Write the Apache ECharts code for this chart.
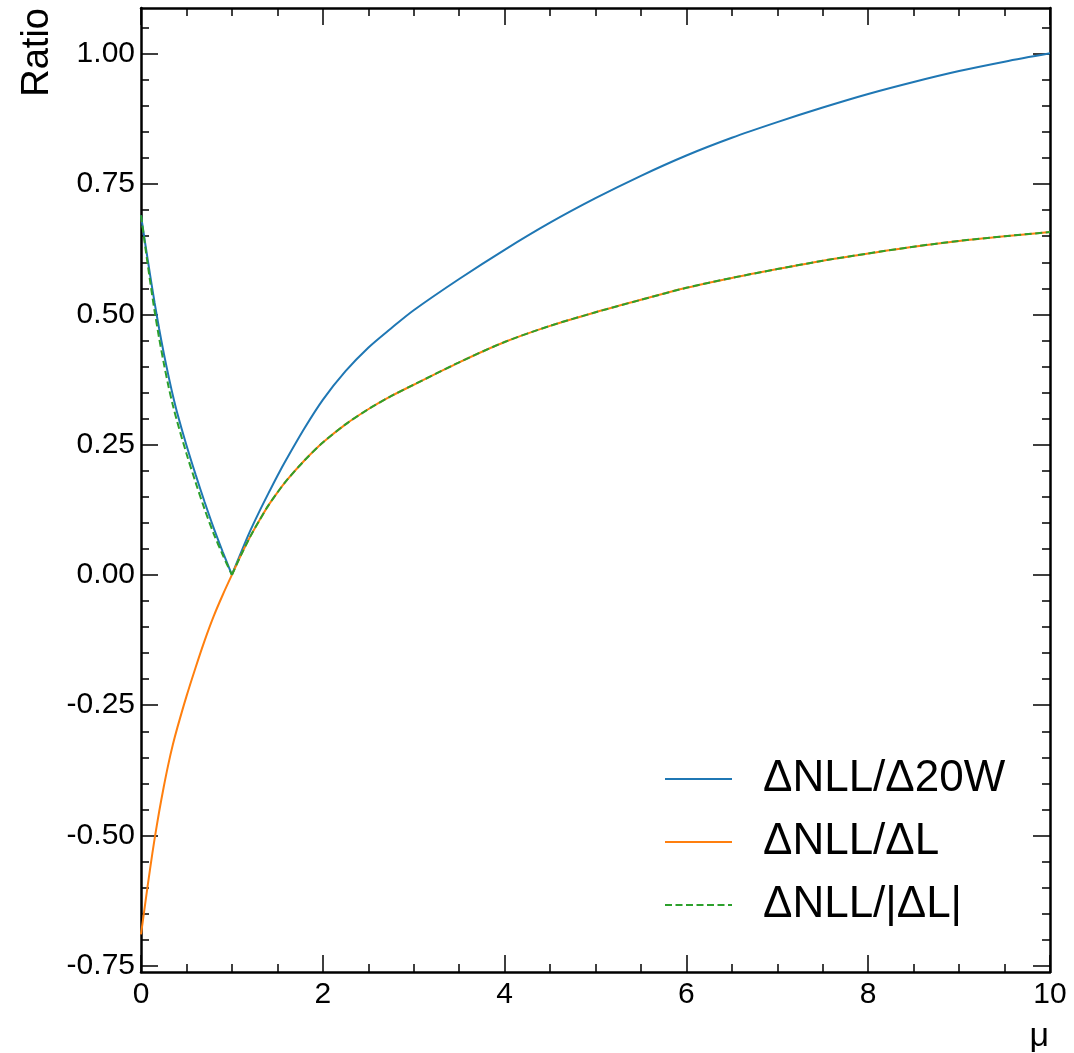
<!DOCTYPE html>
<html>
<head>
<meta charset="utf-8">
<script src="https://cdn.jsdelivr.net/npm/echarts@6/dist/echarts.min.js"></script>
<style>
  html, body { margin: 0; padding: 0; background: #ffffff; }
  #chart { width: 1074px; height: 1053px; }
</style>
</head>
<body>
<div id="chart"></div>
<script>
// ---- data ----
const mu = [0, 0.05, 0.1, 0.15, 0.2, 0.25, 0.3, 0.35, 0.4, 0.5, 0.6, 0.7, 0.8, 0.9, 1.0,
  1.1, 1.2, 1.3, 1.4, 1.5, 1.6, 1.8, 2.0, 2.25, 2.5, 2.75, 3.0, 3.5, 4.0, 4.5, 5.0,
  5.5, 6.0, 6.5, 7.0, 7.5, 8.0, 8.5, 9.0, 9.5, 10];
const ratio20W = [0.69, 0.632, 0.576, 0.522, 0.472, 0.426, 0.384, 0.345, 0.310, 0.249, 0.193, 0.140, 0.090, 0.044, 0,
  0.043, 0.084, 0.121, 0.156, 0.190, 0.222, 0.282, 0.336, 0.391, 0.436, 0.473, 0.508, 0.568, 0.624, 0.676, 0.723,
  0.766, 0.805, 0.839, 0.869, 0.897, 0.923, 0.946, 0.967, 0.985, 1.001];
const ratioL = [-0.69, -0.626, -0.564, -0.506, -0.454, -0.407, -0.364, -0.326, -0.293, -0.233, -0.178, -0.126, -0.079, -0.038, 0,
  0.038, 0.073, 0.104, 0.133, 0.158, 0.181, 0.220, 0.254, 0.289, 0.318, 0.343, 0.365, 0.408, 0.447, 0.478, 0.504,
  0.528, 0.551, 0.570, 0.587, 0.603, 0.617, 0.630, 0.641, 0.650, 0.658];
const ratioAbsL = [0.69, 0.626, 0.564, 0.506, 0.454, 0.407, 0.364, 0.326, 0.293, 0.233, 0.178, 0.126, 0.079, 0.038, 0,
  0.038, 0.073, 0.104, 0.133, 0.158, 0.181, 0.220, 0.254, 0.289, 0.318, 0.343, 0.365, 0.408, 0.447, 0.478, 0.504,
  0.528, 0.551, 0.570, 0.587, 0.603, 0.617, 0.630, 0.641, 0.650, 0.658];
const seriesNames = ['ΔNLL/Δ20W', 'ΔNLL/ΔL', 'ΔNLL/|ΔL|'];
const yMajorTicks = [-0.75, -0.5, -0.25, 0, 0.25, 0.5, 0.75, 1.0];
const yMinorTicks = [-0.70, -0.65, -0.60, -0.55, -0.45, -0.40, -0.35, -0.30, -0.20, -0.15, -0.10, -0.05,
  0.05, 0.10, 0.15, 0.20, 0.30, 0.35, 0.40, 0.45, 0.55, 0.60, 0.65, 0.70, 0.80, 0.85, 0.90, 0.95, 1.05];
const xLabel = 'μ';
const yLabel = 'Ratio';

// ---- chart ----
const Y_MIN = -0.762, Y_MAX = 1.088;
const FONT = 'Liberation Sans';
const CUSP = mu.indexOf(1.0);
// each curve is drawn in two pieces (left / right of the cusp at mu = 1) so smoothing keeps the cusp sharp
const leftPart = (ys) => mu.slice(0, CUSP + 1).map((x, i) => [x, ys[i]]);
const rightPart = (ys) => mu.slice(CUSP).map((x, i) => [x, ys[CUSP + i]]);

const axisLineStyle = { show: true, onZero: false, lineStyle: { color: '#000', width: 2.5 } };
const majorTick = (len) => ({ show: true, inside: true, length: len, lineStyle: { color: '#000', width: 1.5 } });

function xAxisDef(pos, withLabels) {
  return {
    type: 'value', position: pos, min: 0, max: 10, interval: 2,
    axisLine: axisLineStyle,
    axisTick: majorTick(17),
    minorTick: { show: true, splitNumber: 4, length: 8, lineStyle: { color: '#000', width: 1.5 } },
    axisLabel: { show: withLabels, margin: 8, fontSize: 30, fontFamily: FONT, color: '#000' },
    splitLine: { show: false }, minorSplitLine: { show: false }
  };
}
function yAxisDef(pos, ticks, len, withLabels, withLine) {
  return {
    type: 'value', position: pos, min: Y_MIN, max: Y_MAX,
    axisLine: withLine ? axisLineStyle : { show: false, onZero: false },
    axisTick: Object.assign(majorTick(len), { customValues: ticks }),
    axisLabel: {
      show: withLabels, customValues: ticks, margin: 6, fontSize: 30, fontFamily: FONT, color: '#000',
      formatter: (v) => Number(v).toFixed(2)
    },
    splitLine: { show: false }
  };
}

const colors = ['#1f77b4', '#ff7f0e', '#2ca02c'];
const curves = [ratio20W, ratioL, ratioAbsL];
const series = [];
curves.forEach((ys, k) => {
  [leftPart(ys), rightPart(ys)].forEach((pts) => {
    series.push({
      name: seriesNames[k], type: 'line', symbol: 'none', showSymbol: false,
      smooth: 0.3, data: pts,
      lineStyle: { color: colors[k], width: 2, type: k === 2 ? [7, 3.5] : 'solid' },
      itemStyle: { color: colors[k] }, z: 2 + k
    });
  });
});

const chart = echarts.init(document.getElementById('chart'), null, { renderer: 'canvas' });
chart.setOption({
  backgroundColor: '#ffffff',
  animation: false,
  grid: { left: 141, right: 24, top: 8, bottom: 81, containLabel: false },
  xAxis: [xAxisDef('bottom', true), xAxisDef('top', false)],
  yAxis: [
    yAxisDef('left', yMajorTicks, 17, true, true),
    yAxisDef('left', yMinorTicks, 8, false, false),
    yAxisDef('right', yMajorTicks, 17, false, true),
    yAxisDef('right', yMinorTicks, 8, false, false)
  ],
  legend: {
    orient: 'vertical', left: 659, top: 752,
    itemWidth: 67, itemHeight: 20, itemGap: 19,
    itemStyle: { opacity: 0 },
    textStyle: { fontSize: 44, lineHeight: 44, fontFamily: FONT, color: '#000', padding: [0, 0, 0, 26] },
    data: seriesNames
  },
  series: series,
  graphic: [
    { type: 'text', x: 1049, y: 1054,
      style: { text: xLabel, fontSize: 34, fontFamily: FONT, fill: '#000', textAlign: 'right', textVerticalAlign: 'bottom' } },
    { type: 'text', x: 19, y: 8, rotation: Math.PI / 2,
      style: { text: yLabel, fontSize: 38, fontFamily: FONT, fill: '#000', textAlign: 'right', textVerticalAlign: 'top' } }
  ]
});
</script>
</body>
</html>
